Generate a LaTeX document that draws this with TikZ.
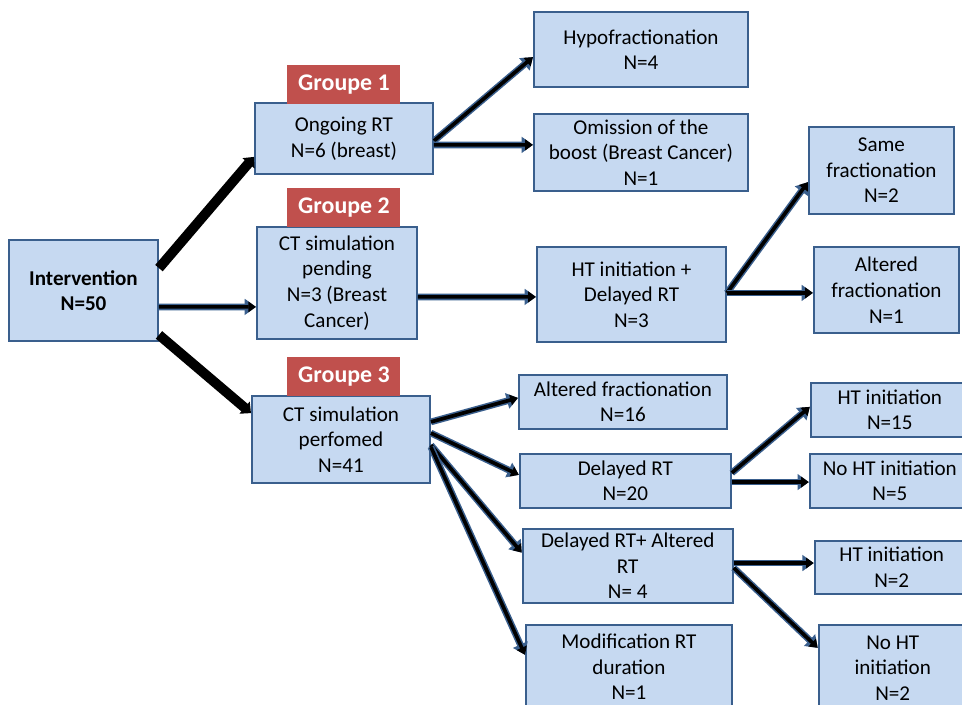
\documentclass[tikz,border=0pt]{standalone}
\usepackage{fontspec}
\setmainfont{Carlito}
\usetikzlibrary{arrows.meta, positioning}

\definecolor{boxfill}{HTML}{C6D9F1}
\definecolor{boxborder}{HTML}{3A5F8D}
\definecolor{groupred}{HTML}{C0504D}

\begin{document}
\begin{tikzpicture}[
	every node/.style={font=\fontsize{15}{18.2}\selectfont},
	block/.style={
		rectangle, draw=boxborder, fill=boxfill, line width=1.4pt,
		inner sep=0pt, align=center
	},
	size/.style 2 args={minimum width=#1, minimum height=#2},
	group/.style={
		rectangle, fill=groupred, text=white, inner sep=0pt,
		minimum width=2.825cm, minimum height=.975cm,
		font=\fontsize{17}{20}\selectfont\bfseries
	},
	arrow/.style={
		line width=2.6pt, -{Triangle[width=7.5pt, length=5.5pt]},
		preaction={draw=boxborder, line width=4.8pt, -{Triangle[width=11pt, length=8pt]}}
	},
	bigarrow/.style={line width=7pt, -{Triangle[width=11pt, length=6pt]}}
	]
	
	\useasboundingbox (0,0) rectangle (24.05,-17.6);
	
	% Nodes
	\node[block, size={3.725cm}{2.525cm}, font=\fontsize{15}{18.2}\selectfont\bfseries] (inter) at (2.0875,-7.2625) {Intervention\\ N=50};
	\node[block, size={4.45cm}{1.775cm}, right=2.375cm of inter, yshift=3.8cm] (ongoing) {Ongoing RT\\ N=6 (breast)};
	\node[block, size={4cm}{2.8cm}, right=2.425cm of inter, yshift=.19cm] (pending) {CT simulation\\ pending\\ N=3 (Breast\\ Cancer)};
	\node[block, size={4.45cm}{2.175cm}, right=2.3cm of inter, yshift=-3.725cm] (performed) {CT simulation\\ perfomed\\ N=41};
	\node[group, above=-.06cm of ongoing] (groupe1) {Groupe 1};
	\node[group, above=-.04cm of pending, xshift=.175cm] (groupe2) {Groupe 2};
	\node[group, above=-.04cm of performed, xshift=.075cm] (groupe3) {Groupe 3};
	
	\node[block, size={5.35cm}{1.875cm}, right=2.475cm of ongoing, yshift=2.225cm] (hypo) {Hypofractionation\\ N=4};
	\node[block, size={5.35cm}{1.925cm}, below=.625cm of hypo] (omission) {Omission of the\\ boost (Breast Cancer)\\ N=1};
	\node[block, size={4.725cm}{2.375cm}, right=2.95cm of pending, yshift=-.29cm] (htdelay) {HT initiation +\\ Delayed RT\\ N=3};
	\node[block, size={3.625cm}{2.175cm}, right=2.025cm of htdelay, yshift=3.1cm] (same) {Same\\ fractionation\\ N=2};
	\node[block, size={3.625cm}{2.15cm}, right=2.15cm of htdelay, yshift=.11cm] (altered) {Altered\\ fractionation\\ N=1};
	
	\node[block, size={5.2cm}{1.35cm}, right=2.175cm of performed, yshift=.94cm] (alt16) {Altered fractionation\\ N=16};
	\node[block, size={5.275cm}{1.35cm}, below=.575cm of alt16, xshift=.06cm] (delay20) {Delayed RT\\ N=20};
	\node[block, size={5.25cm}{1.85cm}, below=.475cm of delay20, xshift=.06cm] (delalt) {Delayed RT+ Altered\\ RT\\ N= 4};
	\node[block, size={5.15cm}{2.1cm}, below=.5cm of delalt, xshift=.03cm] (modif) {Modification RT\\ duration\\ N=1};
	
	\node[block, size={3.95cm}{1.35cm}, right=1.95cm of delay20, yshift=1.775cm] (ht15) {HT initiation\\ N=15};
	\node[block, size={4cm}{1.35cm}, right=1.925cm of delay20] (noht5) {No HT initiation\\ N=5};
	\node[block, size={3.85cm}{1.325cm}, right=2cm of delalt, yshift=-.04cm] (ht2) {HT initiation\\ N=2};
	\node[block, size={3.7cm}{2.15cm}, right=2.1cm of delalt, yshift=-2.55cm] (noht2) {No HT\\ initiation\\ N=2};
	
	% Arrows
	\draw[bigarrow] ([yshift=.56cm]inter.east) -- ([yshift=-.46cm]ongoing.west);
	\draw[arrow] ([yshift=-.41cm]inter.east) -- ([yshift=-.6cm]pending.west);
	\draw[bigarrow] ([yshift=-1.11cm]inter.east) -- ([yshift=.66cm]performed.west);
	
	\draw[arrow] ([yshift=-.06cm]ongoing.east) -- ([yshift=-.19cm]hypo.west);
	\draw[arrow] ([yshift=-.16cm]ongoing.east) -- ([yshift=.19cm]omission.west);
	\draw[arrow] ([yshift=-.35cm]pending.east) -- ([yshift=-.06cm]htdelay.west);
	\draw[arrow] ([yshift=.04cm]htdelay.east) -- ([yshift=-.29cm]same.west);
	\draw[arrow] ([yshift=.04cm]htdelay.east) -- ([yshift=-.07cm]altered.west);
	
	\draw[arrow] ([yshift=.44cm]performed.east) -- ([yshift=.1cm]alt16.west);
	\draw[arrow] ([yshift=.16cm]performed.east) -- ([yshift=.15cm]delay20.west);
	\draw[arrow] ([yshift=-.14cm]performed.east) -- ([yshift=.33cm]delalt.west);
	\draw[arrow] ([yshift=-.19cm]performed.east) -- ([yshift=.3cm]modif.west);
	
	\draw[arrow] ([yshift=.2cm]delay20.east) -- ([yshift=.075cm]ht15.west);
	\draw[arrow] ([yshift=-.03cm]delay20.east) -- ([yshift=-.03cm]noht5.west);
	\draw[arrow] ([yshift=.07cm]delalt.east) -- ([yshift=.11cm]ht2.west);
	\draw[arrow] ([yshift=-.05cm]delalt.east) -- ([yshift=.5cm]noht2.west);
\end{tikzpicture}
\end{document}
